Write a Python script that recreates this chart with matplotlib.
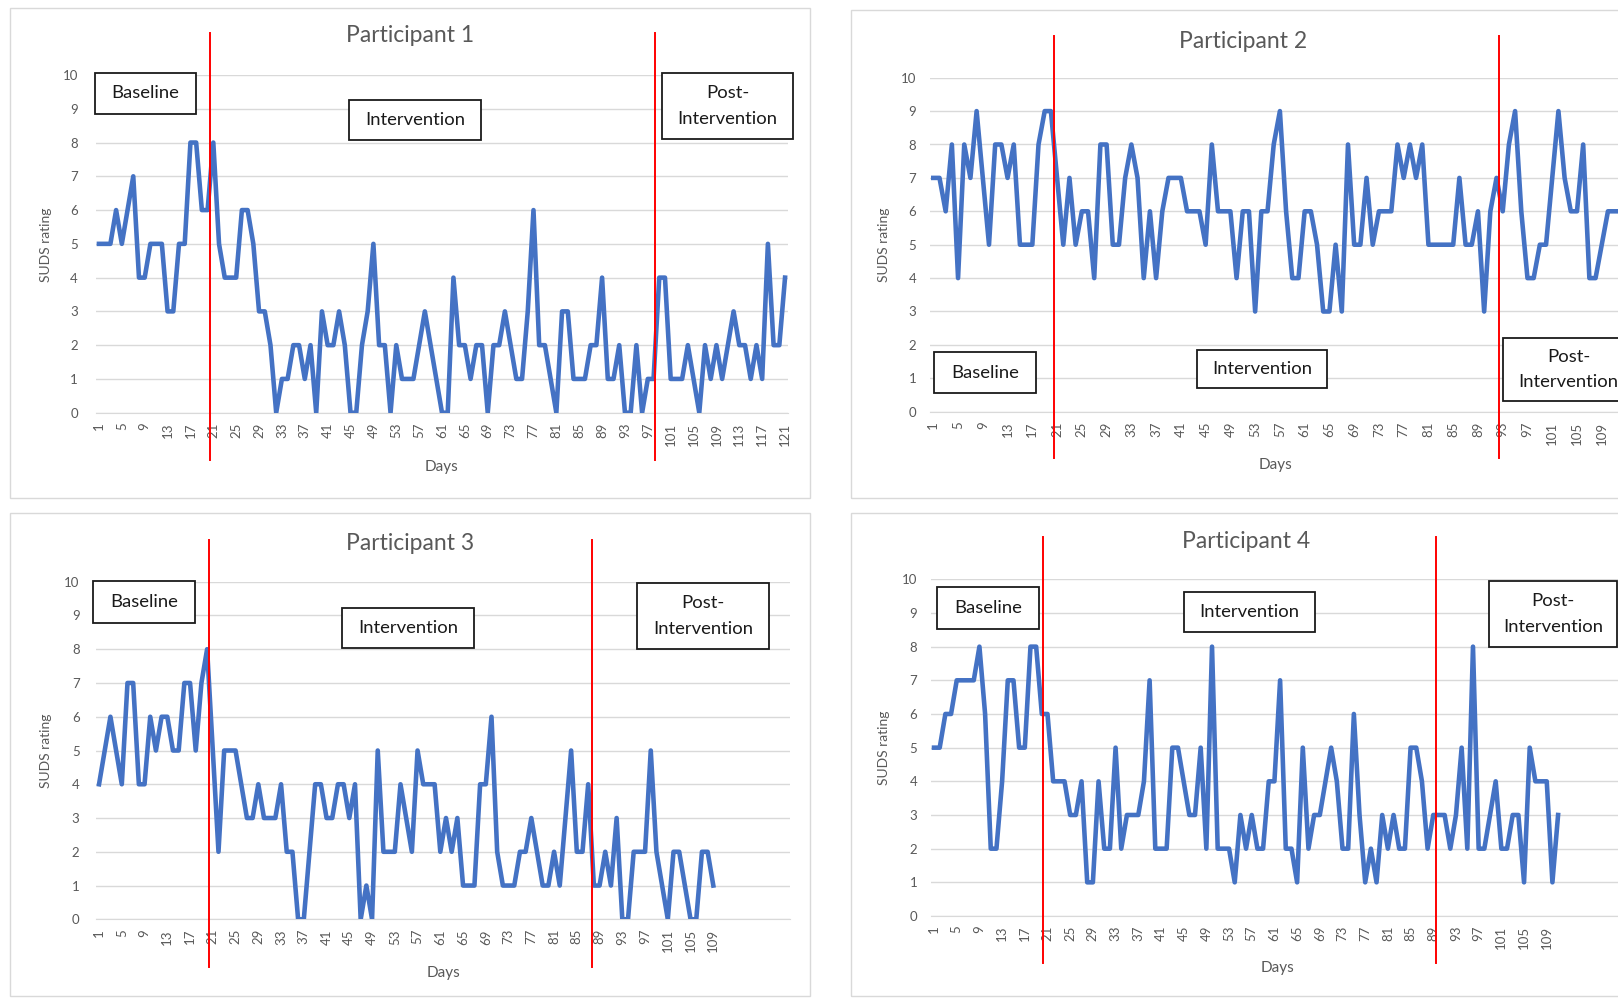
import numpy as np
import matplotlib.pyplot as plt
from matplotlib.patches import Rectangle

plt.rcParams['font.family'] = ['Lato', 'DejaVu Sans']

# SUDS ratings per day
p1_suds = [5, 5, 5, 6, 5, 6, 7, 4, 4, 5, 5, 5, 3, 3, 5, 5, 8, 8, 6, 6,
           8, 5, 4, 4, 4, 6, 6, 5, 3, 3, 2, 0, 1, 1, 2, 2, 1, 2, 0, 3, 2, 2,
           3, 2, 0, 0, 2, 3, 5, 2, 2, 0, 2, 1, 1, 1, 2, 3, 2, 1,
           0, 0, 4, 2, 2, 1, 2, 2, 0, 2, 2, 3, 2, 1, 1, 3, 6, 2, 2, 1, 0, 3,
           3, 1, 1, 1, 2, 2, 4, 1, 1, 2, 0, 0, 2, 0, 1, 1, 4, 4,
           1, 1, 1, 2, 1, 0, 2, 1, 2, 1, 2, 3, 2, 2, 1, 2, 1, 5, 2, 2, 4]
p2_suds = [7, 7, 6, 8, 4, 8, 7, 9, 7, 5, 8, 8, 7, 8, 5, 5, 5, 8, 9, 9,
           7, 5, 7, 5, 6, 6, 4, 8, 8, 5, 5, 7, 8, 7, 4, 6, 4,
           6, 7, 7, 7, 6, 6, 6, 5, 8, 6, 6, 6, 4, 6, 6, 3, 6, 6, 8, 9,
           6, 4, 4, 6, 6, 5, 3, 3, 5, 3, 8, 5, 5, 7, 5, 6, 6, 6,
           8, 7, 8, 7, 8, 5, 5, 5, 5, 5, 7, 5, 5, 6, 3, 6, 7, 6, 8, 9,
           6, 4, 4, 5, 5, 7, 9, 7, 6, 6, 8, 4, 4, 5, 6, 6, 6]
p3_suds = [4, 5, 6, 5, 4, 7, 7, 4, 4, 6, 5, 6, 6, 5, 5, 7, 7, 5, 7, 8,
           5, 2, 5, 5, 5, 4, 3, 3, 4, 3, 3, 3, 4, 2, 2, 0, 0,
           2, 4, 4, 3, 3, 4, 4, 3, 4, 0, 1, 0, 5, 2, 2, 2, 4, 3, 2,
           5, 4, 4, 4, 2, 3, 2, 3, 1, 1, 1, 4, 4, 6, 2, 1, 1, 1, 2, 2, 3,
           2, 1, 1, 2, 1, 3, 5, 2, 2, 4, 1, 1, 2, 1, 3,
           0, 0, 2, 2, 2, 5, 2, 1, 0, 2, 2, 1, 0, 0, 2, 2, 1]
p4_suds = [5, 5, 6, 6, 7, 7, 7, 7, 8, 6, 2, 2, 4, 7, 7, 5, 5, 8, 8, 6,
           6, 4, 4, 4, 3, 3, 4, 1, 1, 4, 2, 2, 5, 2, 3, 3, 3, 4, 7,
           2, 2, 2, 5, 5, 4, 3, 3, 5, 2, 8, 2, 2, 2, 1, 3, 2, 3,
           2, 2, 4, 4, 7, 2, 2, 1, 5, 2, 3, 3, 4, 5, 4, 2, 2, 6, 3, 1,
           2, 1, 3, 2, 3, 2, 2, 5, 5, 4, 2, 3, 3, 3, 2, 3, 5, 2, 8,
           2, 2, 3, 4, 2, 2, 3, 3, 1, 5, 4, 4, 4, 1, 3]

# phase change lines (day position)
p1_phase = [20.4, 98.2]
p2_phase = [20.5, 92.45]
p3_phase = [20.3, 87.7]
p4_phase = [20.2, 89.5]

titles = ['Participant 1', 'Participant 2', 'Participant 3', 'Participant 4']
last_tick = [121, 109, 109, 109]
x_max = [121.5, 113.5, 122.5, 123.5]

W, H = 1618, 999
fig = plt.figure(figsize=(W / 100, H / 100), dpi=100)
fig.patch.set_facecolor('white')

GRAY = '#595959'
GRID = '#d9d9d9'
BLUE = '#4472c4'


def fx(px):
    return px / W


def fy(py):
    return 1 - py / H


def add_panel(left, right, top, bottom):
    return fig.add_axes([fx(left), fy(bottom), (right - left) / W, (bottom - top) / H])


def text_box(l, t, r, b, label):
    fig.patches.append(Rectangle((fx(l), fy(b)), (r - l) / W, (b - t) / H,
                                 transform=fig.transFigure, facecolor='white',
                                 edgecolor='#1a1a1a', lw=1.3, zorder=5))
    fig.text(fx((l + r) / 2), fy((t + b) / 2), label, ha='center', va='center',
             fontsize=13.3, color='#1a1a1a', zorder=6, linespacing=1.75)


# panel frames (chart areas)
for (l, t, r, b) in [(10, 8, 810, 498), (851, 10, 1640, 498),
                     (10, 513, 810, 996), (851, 513, 1640, 996)]:
    fig.patches.append(Rectangle((fx(l), fy(b)), (r - l) / W, (b - t) / H,
                                 transform=fig.transFigure, facecolor='none',
                                 edgecolor=GRID, lw=1.0, zorder=0.5))

# plot areas: left, right, top(y=10), bottom(y=0) in pixels
areas = [(96.1, 787.9, 75.0, 412.7),
         (930.2, 1629.6, 77.7, 411.7),
         (96.2, 790.1, 581.7, 919.3),
         (931.2, 1629.0, 579.3, 916.0)]
ylab_pos = [(46.4, 244.6), (884.4, 244.6), (46.4, 751.3), (884.4, 748.0)]
xlab_pos = [(441.7, 466.5), (1275.5, 465.5), (443.8, 973.0), (1277.6, 968.0)]
title_pos = [(410, 36), (1243, 41), (410, 544), (1246, 542)]
ypads = [13, 10, 12, 10]

series = [p1_suds, p2_suds, p3_suds, p4_suds]
phases = [p1_phase, p2_phase, p3_phase, p4_phase]

for i in range(4):
    l, r, t, b = areas[i]
    ax = add_panel(l, r, t, b)
    ax.set_facecolor('none')
    vals = series[i]
    days = np.arange(1, len(vals) + 1)
    ax.plot(days, vals, color=BLUE, lw=3.3, solid_joinstyle='round', zorder=3)
    ax.set_xlim(0.5, x_max[i])
    ax.set_ylim(0, 10)
    ax.set_yticks(range(0, 11))
    ticks = list(range(1, last_tick[i] + 1, 4))
    ax.set_xticks(ticks)
    ax.set_xticklabels([str(v) for v in ticks], rotation=90, ha='center', va='top')
    ax.grid(axis='y', color=GRID, lw=1.0)
    ax.set_axisbelow(True)
    for s in ['top', 'right', 'left']:
        ax.spines[s].set_visible(False)
    ax.spines['bottom'].set_color(GRID)
    ax.tick_params(axis='both', length=0, colors=GRAY, labelsize=9.5)
    ax.tick_params(axis='y', pad=ypads[i])
    ax.tick_params(axis='x', pad=7)
    for xp in phases[i]:
        ax.axvline(xp, ymin=-0.14, ymax=1.125, color='#ff0000', lw=1.4,
                   clip_on=False, zorder=4)

    ax.set_ylabel('SUDS rating', color=GRAY, fontsize=10)
    ax.yaxis.set_label_coords((ylab_pos[i][0] - l) / (r - l),
                              (b - ylab_pos[i][1]) / (b - t))
    ax.yaxis.label.set_va('center')
    ax.set_xlabel('Days', color=GRAY, fontsize=11)
    ax.xaxis.set_label_coords((xlab_pos[i][0] - l) / (r - l),
                              (b - xlab_pos[i][1]) / (b - t))
    ax.xaxis.label.set_va('center')

    fig.text(fx(title_pos[i][0]), fy(title_pos[i][1]), titles[i], ha='center',
             va='center', fontsize=16.5, color=GRAY)

# phase labels
text_box(95, 73, 196, 114, 'Baseline')
text_box(349, 100, 481, 140, 'Intervention')
text_box(662, 73, 793, 139, 'Post-\nIntervention')
text_box(934, 352, 1036, 393, 'Baseline')
text_box(1197, 350, 1327, 388, 'Intervention')
text_box(1503, 338, 1634, 401, 'Post-\nIntervention')
text_box(93, 581, 195, 623, 'Baseline')
text_box(342, 608, 474, 648, 'Intervention')
text_box(637, 583, 769, 649, 'Post-\nIntervention')
text_box(937, 587, 1039, 629, 'Baseline')
text_box(1184, 592, 1315, 632, 'Intervention')
text_box(1489, 581, 1617, 647, 'Post-\nIntervention')

fig.savefig('out.png', dpi=100)
